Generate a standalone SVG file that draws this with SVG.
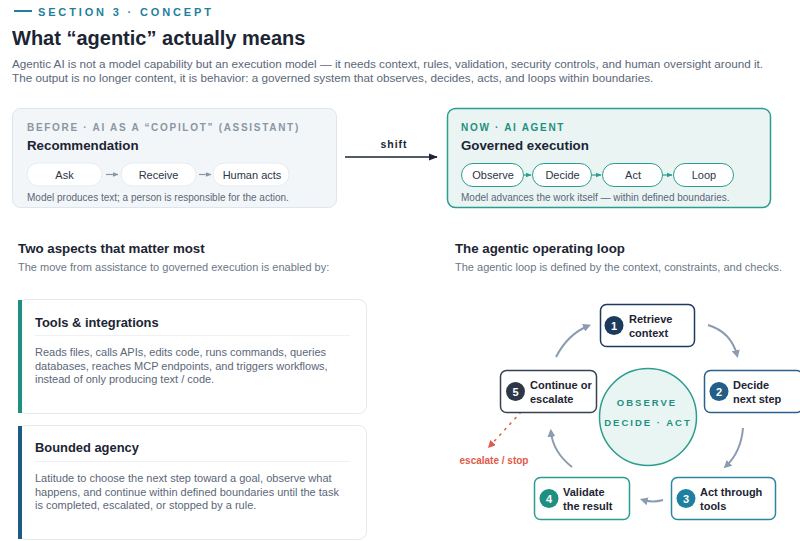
<svg xmlns="http://www.w3.org/2000/svg" width="800" height="541" viewBox="0 0 800 541">
<defs>
<style>
text{font-family:"Liberation Sans",Arial,sans-serif;}
.kick{font-size:11px;font-weight:bold;letter-spacing:2.85px;fill:#1f7f9c;}
.h1{font-size:20px;font-weight:bold;fill:#1c2533;}
.body{font-size:11.7px;fill:#5b6778;}
.lbl{font-size:10px;font-weight:bold;letter-spacing:1.7px;}
.h2{font-size:13.3px;font-weight:bold;fill:#1c2533;}
.h3{font-size:12.9px;font-weight:bold;fill:#1c2533;}
.pill{font-size:11px;fill:#2b3645;text-anchor:middle;}
.cap{font-size:10px;fill:#5b6778;}
.sub{font-size:11px;fill:#6b7787;}
.cbody{font-size:11px;fill:#5b6778;}
.nt{font-size:11px;font-weight:bold;fill:#1c2533;}
.num{font-size:11px;font-weight:bold;fill:#fff;text-anchor:middle;}
.loop{fill:none;stroke:#8b9bb0;stroke-width:2;marker-end:url(#ag);}
.ctr{font-size:9.5px;font-weight:bold;letter-spacing:2px;fill:#1f9080;text-anchor:middle;}
</style>
<marker id="ag" viewBox="0 0 10 10" refX="6" refY="5" markerWidth="4" markerHeight="4" orient="auto"><path d="M0,0 L10,5 L0,10 z" fill="#8b9bb0"/></marker>
<marker id="ab" viewBox="0 0 10 10" refX="9" refY="5" markerWidth="6" markerHeight="6" orient="auto"><path d="M0,1 L10,5 L0,9 z" fill="#1c2533"/></marker>
<marker id="at" viewBox="0 0 10 10" refX="9" refY="5" markerWidth="5" markerHeight="5" orient="auto"><path d="M0,1 L10,5 L0,9 z" fill="#2a9d8f"/></marker>
<marker id="agr" viewBox="0 0 10 10" refX="9" refY="5" markerWidth="5" markerHeight="5" orient="auto"><path d="M0,1 L10,5 L0,9 z" fill="#8b96a4"/></marker>
<marker id="ar" viewBox="0 0 10 10" refX="8" refY="5" markerWidth="5" markerHeight="5" orient="auto"><path d="M0,0 L10,5 L0,10 z" fill="#e05a4a"/></marker>
</defs>
<rect width="800" height="541" fill="#ffffff"/>

<g id="header">
<line x1="14" y1="11" x2="32" y2="11" stroke="#1f7f9c" stroke-width="2"/>
<text class="kick" x="38" y="16">SECTION 3 · CONCEPT</text>
<text class="h1" x="12" y="45">What “agentic” actually means</text>
<text class="body" x="12" y="68">Agentic AI is not a model capability but an execution model — it needs context, rules, validation, security controls, and human oversight around it.</text>
<text class="body" x="12" y="82">The output is no longer content, it is behavior: a governed system that observes, decides, acts, and loops within boundaries.</text>
</g>

<g id="before">
<rect x="12.5" y="108.5" width="324" height="99" rx="8" fill="#f3f6f9" stroke="#dfe5ec"/>
<text class="lbl" x="27" y="131" fill="#8a96a4">BEFORE · AI AS A “COPILOT” (ASSISTANT)</text>
<text class="h2" x="27" y="150">Recommendation</text>
<rect x="27" y="163" width="75" height="23" rx="11.5" fill="#fff" stroke="#e6ebf0"/>
<text class="pill" x="64.5" y="178.5">Ask</text>
<rect x="121" y="163" width="75" height="23" rx="11.5" fill="#fff" stroke="#e6ebf0"/>
<text class="pill" x="158.5" y="178.5">Receive</text>
<rect x="213" y="163" width="76" height="23" rx="11.5" fill="#fff" stroke="#e6ebf0"/>
<text class="pill" x="252" y="178.5">Human acts</text>
<line x1="106" y1="174.5" x2="118" y2="174.5" stroke="#8b96a4" stroke-width="1.2" marker-end="url(#agr)"/>
<line x1="199" y1="174.5" x2="211" y2="174.5" stroke="#8b96a4" stroke-width="1.2" marker-end="url(#agr)"/>
<text class="cap" x="27" y="201">Model produces text; a person is responsible for the action.</text>
</g>

<g id="shift">
<text x="394" y="148" font-size="10.5" font-weight="bold" letter-spacing="1" fill="#1c2533" text-anchor="middle">shift</text>
<line x1="345" y1="157" x2="437" y2="157" stroke="#1c2533" stroke-width="1.5" marker-end="url(#ab)"/>
</g>

<g id="now">
<rect x="447.5" y="108.5" width="323" height="99" rx="8" fill="#eaf5f3" stroke="#2a9d8f" stroke-width="1.5"/>
<text class="lbl" x="461" y="131" fill="#1f9080">NOW · AI AGENT</text>
<text class="h2" x="461" y="150">Governed execution</text>
<rect x="461.5" y="163.5" width="62" height="23" rx="11.5" fill="#fff" stroke="#2a9d8f"/>
<text class="pill" x="493" y="178.5">Observe</text>
<rect x="532.5" y="163.5" width="59" height="23" rx="11.5" fill="#fff" stroke="#2a9d8f"/>
<text class="pill" x="562.5" y="178.5">Decide</text>
<rect x="602.5" y="163.5" width="60" height="23" rx="11.5" fill="#fff" stroke="#2a9d8f"/>
<text class="pill" x="633" y="178.5">Act</text>
<rect x="673.5" y="163.5" width="60" height="23" rx="11.5" fill="#fff" stroke="#2a9d8f"/>
<text class="pill" x="704" y="178.5">Loop</text>
<line x1="524" y1="175" x2="531" y2="175" stroke="#2a9d8f" stroke-width="1.2" marker-end="url(#at)"/>
<line x1="592" y1="175" x2="601" y2="175" stroke="#2a9d8f" stroke-width="1.2" marker-end="url(#at)"/>
<line x1="663" y1="175" x2="672" y2="175" stroke="#2a9d8f" stroke-width="1.2" marker-end="url(#at)"/>
<text class="cap" x="461" y="201">Model advances the work itself — within defined boundaries.</text>
</g>

<g id="aspects">
<text class="h2" x="18" y="253">Two aspects that matter most</text>
<text class="sub" x="18" y="271">The move from assistance to governed execution is enabled by:</text>
</g>

<g id="card-tools">
<rect x="18.5" y="299.5" width="348" height="114" rx="8" fill="#fff" stroke="#e3e8ee"/>
<rect x="18" y="300" width="4" height="113" fill="#1f9080"/>
<text class="h3" x="35" y="327">Tools &amp; integrations</text>
<line x1="35" y1="335.5" x2="350" y2="335.5" stroke="#edf1f5"/>
<text class="cbody" x="35" y="356">Reads files, calls APIs, edits code, runs commands, queries</text>
<text class="cbody" x="35" y="369.5">databases, reaches MCP endpoints, and triggers workflows,</text>
<text class="cbody" x="35" y="383">instead of only producing text / code.</text>
</g>

<g id="card-agency">
<rect x="18.5" y="425.5" width="348" height="114" rx="8" fill="#fff" stroke="#e3e8ee"/>
<rect x="18" y="426" width="4" height="113" fill="#1f5a82"/>
<text class="h3" x="35" y="452">Bounded agency</text>
<line x1="35" y1="461.5" x2="350" y2="461.5" stroke="#edf1f5"/>
<text class="cbody" x="35" y="482">Latitude to choose the next step toward a goal, observe what</text>
<text class="cbody" x="35" y="495.5">happens, and continue within defined boundaries until the task</text>
<text class="cbody" x="35" y="509">is completed, escalated, or stopped by a rule.</text>
</g>

<g id="loop-title">
<text class="h2" x="455" y="253">The agentic operating loop</text>
<text class="sub" x="455" y="271">The agentic loop is defined by the context, constraints, and checks.</text>
</g>

<g id="center">
<circle cx="648" cy="417" r="48.5" fill="#e9f5f3" stroke="#2a9d8f" stroke-width="1.5"/>
<text class="ctr" x="647" y="406">OBSERVE</text>
<text class="ctr" x="648" y="426">DECIDE · ACT</text>
</g>

<g id="connectors">
<path class="loop" d="M556,357 Q568,334 588,326"/>
<path class="loop" d="M708,325 Q731,332 737,355"/>
<path class="loop" d="M743,428 Q741,452 726,466"/>
<path class="loop" d="M663,500 Q653,503 643,500"/>
<path class="loop" d="M572,467 Q553,452 551,432"/>
<path d="M521,412 L489,447" fill="none" stroke="#e05a4a" stroke-width="1.5" stroke-dasharray="1.5,6" stroke-linecap="round" marker-end="url(#ar)"/>
<text x="494" y="464" font-size="10" font-weight="bold" fill="#e05a4a" text-anchor="middle">escalate / stop</text>
</g>

<g id="step1">
<rect x="600.5" y="304.5" width="94" height="42" rx="6" fill="#fff" stroke="#1e3a5f" stroke-width="1.5"/>
<circle cx="614" cy="325.5" r="9.5" fill="#1b3a5c"/>
<text class="num" x="614" y="329.5">1</text>
<text class="nt" x="629" y="323">Retrieve</text>
<text class="nt" x="629" y="337">context</text>
</g>

<g id="step2">
<rect x="704.5" y="370.5" width="98" height="42" rx="6" fill="#fff" stroke="#2c5f8a" stroke-width="1.5"/>
<circle cx="719" cy="391.5" r="9.5" fill="#245d86"/>
<text class="num" x="719" y="395.5">2</text>
<text class="nt" x="733" y="389">Decide</text>
<text class="nt" x="733" y="403">next step</text>
</g>

<g id="step3">
<rect x="671.5" y="477.5" width="104" height="42" rx="6" fill="#fff" stroke="#2a86a0" stroke-width="1.5"/>
<circle cx="686" cy="498.5" r="9.5" fill="#1f7fa0"/>
<text class="num" x="686" y="502.5">3</text>
<text class="nt" x="700" y="496">Act through</text>
<text class="nt" x="700" y="510">tools</text>
</g>

<g id="step4">
<rect x="534.5" y="477.5" width="95" height="42" rx="6" fill="#fff" stroke="#2a9d8f" stroke-width="1.5"/>
<circle cx="549" cy="498.5" r="9.5" fill="#1f9080"/>
<text class="num" x="549" y="502.5">4</text>
<text class="nt" x="563" y="496">Validate</text>
<text class="nt" x="563" y="510">the result</text>
</g>

<g id="step5">
<rect x="500.5" y="370.5" width="96" height="42" rx="6" fill="#fff" stroke="#374151" stroke-width="1.5"/>
<circle cx="515.5" cy="391.5" r="9.5" fill="#2d3748"/>
<text class="num" x="515.5" y="395.5">5</text>
<text class="nt" x="530" y="389">Continue or</text>
<text class="nt" x="530" y="403">escalate</text>
</g>
</svg>
